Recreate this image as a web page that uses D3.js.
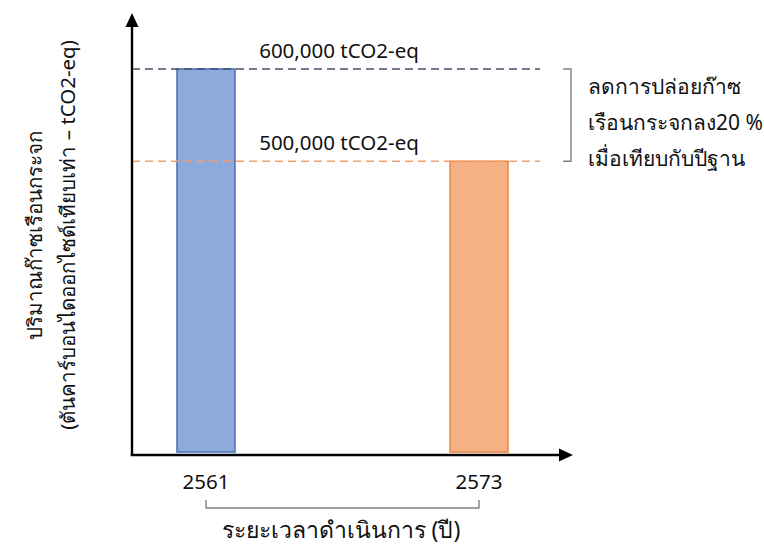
<!DOCTYPE html>
<html>
<head>
<meta charset="utf-8">
<script src="https://cdn.jsdelivr.net/npm/d3@7"></script>
<style>
  html, body { margin: 0; padding: 0; background: #fff; }
  svg text { font-family: "Noto Sans", "DejaVu Sans", "Liberation Sans", sans-serif; fill: #111; }
</style>
</head>
<body>
<svg id="chart" width="764" height="546"></svg>
<script>
// Emission figures (tCO2-eq) for the base year and the target year
const years = ["2561", "2573"];
const emissions = [600000, 500000];
const barFills = ["#8eaadb", "#f4b183"];
const barStrokes = ["#4f73bd", "#ec8a4c"];
const refLineColors = ["#44506a", "#f2a06a"];
const valueLabels = ["600,000 tCO2-eq", "500,000 tCO2-eq"];
const noteLines = ["ลดการปล่อยก๊าซ", "เรือนกระจกลง20 %", "เมื่อเทียบกับปีฐาน"];
const yTitleLines = ["ปริมาณก๊าซเรือนกระจก", "(ตันคาร์บอนไดออกไซด์เทียบเท่า – tCO2-eq)"];
const xTitle = "ระยะเวลาดำเนินการ (ปี)";

const svg = d3.select("#chart");

const origin = { x: 132, y: 455 };
const plotRight = 540;
const barWidth = 58;

// Value axis does not start at zero; its lowest visible value sits on the x-axis
const y = d3.scaleLinear().domain([185000, 600000]).range([452, 69]);
const x = d3.scalePoint().domain(years).range([206, 479]);

// Bars
svg.selectAll("rect.bar").data(years).join("rect")
  .attr("class", "bar")
  .attr("x", d => x(d) - barWidth / 2)
  .attr("width", barWidth)
  .attr("y", (d, i) => y(emissions[i]))
  .attr("height", (d, i) => y.range()[0] - y(emissions[i]))
  .attr("fill", (d, i) => barFills[i])
  .attr("stroke", (d, i) => barStrokes[i])
  .attr("stroke-width", 1.6);

// Dashed reference lines at each bar value
svg.selectAll("line.ref").data(emissions).join("line")
  .attr("class", "ref")
  .attr("x1", origin.x).attr("x2", plotRight)
  .attr("y1", d => y(d)).attr("y2", d => y(d))
  .attr("stroke", (d, i) => refLineColors[i])
  .attr("stroke-width", 1.4)
  .attr("stroke-dasharray", "8,5");

svg.selectAll("text.vlabel").data(emissions).join("text")
  .attr("class", "vlabel")
  .attr("x", 339)
  .attr("y", d => y(d) - 11)
  .attr("text-anchor", "middle")
  .attr("font-size", 20.5)
  .text((d, i) => valueLabels[i]);

// Axes with arrow heads
svg.append("line")
  .attr("x1", origin.x).attr("y1", origin.y + 1)
  .attr("x2", origin.x).attr("y2", 24)
  .attr("stroke", "#000").attr("stroke-width", 2.4);
svg.append("path")
  .attr("d", `M${origin.x},13 L${origin.x + 6.5},27 L${origin.x - 6.5},27 Z`)
  .attr("fill", "#000");
svg.append("line")
  .attr("x1", origin.x - 1.2).attr("y1", origin.y)
  .attr("x2", 562).attr("y2", origin.y)
  .attr("stroke", "#000").attr("stroke-width", 2.4);
svg.append("path")
  .attr("d", `M573,${origin.y} L559,${origin.y - 6.5} L559,${origin.y + 6.5} Z`)
  .attr("fill", "#000");

// Year tick labels
svg.selectAll("text.year").data(years).join("text")
  .attr("class", "year")
  .attr("x", d => x(d))
  .attr("y", 489)
  .attr("text-anchor", "middle")
  .attr("font-size", 20.5)
  .text(d => d);

// Bracket spanning the period
const x0 = x(years[0]), x1 = x(years[1]);
svg.append("path")
  .attr("d", `M${x0},500 V508 H${x1} V500`)
  .attr("fill", "none").attr("stroke", "#808080").attr("stroke-width", 1.4);

svg.append("text")
  .attr("x", 341).attr("y", 538)
  .attr("text-anchor", "middle")
  .attr("font-size", 23)
  .text(xTitle);

// Bracket and note on the reduction
const yt = y(emissions[0]), yb = y(emissions[1]);
svg.append("path")
  .attr("d", `M563,${yt} H571 V${yb} H563`)
  .attr("fill", "none").attr("stroke", "#808080").attr("stroke-width", 1.4);

svg.selectAll("text.note").data(noteLines).join("text")
  .attr("class", "note")
  .attr("x", 588)
  .attr("y", (d, i) => 94 + i * 36)
  .attr("font-size", 21)
  .text(d => d);

// Rotated y-axis title
svg.selectAll("text.ytitle").data(yTitleLines).join("text")
  .attr("class", "ytitle")
  .attr("transform", (d, i) => `translate(${i === 0 ? 42 : 75},235) rotate(-90)`)
  .attr("text-anchor", "middle")
  .attr("font-size", 20.5)
  .text(d => d);
</script>
</body>
</html>
